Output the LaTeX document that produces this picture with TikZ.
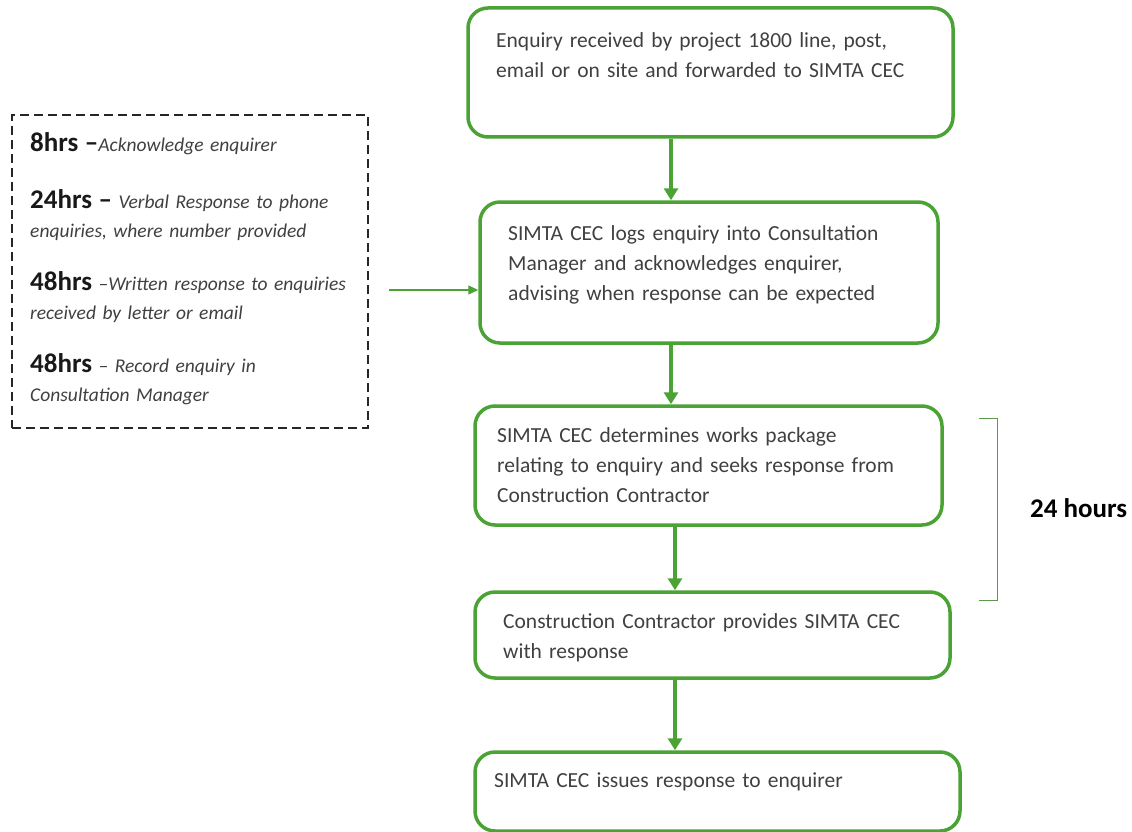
\documentclass[tikz,border=0pt]{standalone}
\usepackage{fontspec}
\setmainfont{Carlito}
\usetikzlibrary{arrows.meta}
\definecolor{boxgreen}{RGB}{74,163,52}
\definecolor{txtgrey}{RGB}{64,64,64}
\newcommand{\hrsb}[1]{{\fontsize{27}{29}\selectfont\bfseries\upshape\color{black!90}#1}}

\begin{document}
\begin{tikzpicture}[x=1pt,y=-1pt,
	stepbox/.style={draw=boxgreen,line width=3.5pt,rounded corners=20pt,inner sep=0pt},
	boxtext/.style={anchor=base west,inner sep=0pt,text width=#1,align=left,text=txtgrey,
	font=\fontsize{21.5}{30}\selectfont},
	itemtext/.style={anchor=base west,inner sep=0pt,text width=338pt,align=left,text=txtgrey,
	font=\fontsize{19.5}{29}\selectfont\itshape},
	flow/.style={draw=boxgreen,line width=3.5pt,-{Triangle[width=14pt,length=12pt]}},
	feed/.style={draw=boxgreen,line width=1.4pt,-{Triangle[width=9pt,length=10pt]}}]
\useasboundingbox (0,0) rectangle (1132,832);

% flow boxes
\node[stepbox,minimum width=485pt,minimum height=129pt] (b1) at (710.5,72.5) {};
\node[stepbox,minimum width=458pt,minimum height=141pt] (b2) at (709,272.5) {};
\node[stepbox,minimum width=467pt,minimum height=119pt] (b3) at (708.5,465.5) {};
\node[stepbox,minimum width=475pt,minimum height=86pt] (b4) at (712.5,635) {};
\node[stepbox,minimum width=485pt,minimum height=79pt] (b5) at (717.5,791.5) {};

\node[boxtext=450pt] (t1) at (496,48) {Enquiry received by project 1800 line, post,\\
	email or on site and forwarded to SIMTA CEC};
\node[boxtext=420pt] (t2) at (508,240) {SIMTA CEC logs enquiry into Consultation\\
	Manager and acknowledges enquirer,\\ advising when response can be expected};
\node[boxtext=440pt] (t3) at (497,442) {SIMTA CEC determines works package\\
	relating to enquiry and seeks response from\\ Construction Contractor};
\node[boxtext=440pt] (t4) at (503,628) {Construction Contractor provides SIMTA CEC\\ with response};
\node[boxtext=440pt] (t5) at (494,787) {SIMTA CEC issues response to enquirer};

\draw[flow] (b1.south -| 671,0) -- (b2.north -| 671,0);
\draw[flow] (b2.south -| 671,0) -- (b3.north -| 671,0);
\draw[flow] (b3.south -| 675,0) -- (b4.north -| 675,0);
\draw[flow] (b4.south -| 675,0) -- (b5.north -| 675,0);

% response times
\node[draw=black!85,line width=2pt,dash pattern=on 9pt off 5pt,minimum width=356pt,
	minimum height=313pt,inner sep=0pt] (note) at (190,271.5) {};
\node[itemtext] (n8) at (30,152) {\hrsb{8hrs --}Acknowledge enquirer};
\node[itemtext] (n24) at (30,208) {\hrsb{24hrs --} Verbal Response to phone\\
	enquiries, where number provided};
\node[itemtext] (n48a) at (30,290) {\hrsb{48hrs} --Written response to enquiries\\
	received by letter or email};
\node[itemtext] (n48b) at (30,372) {\hrsb{48hrs} -- Record enquiry in\\ Consultation Manager};

\draw[feed] ([xshift=20pt]note.east |- 0,290) -- (b2.west |- 0,290);

% 24 hour bracket
\coordinate (brtop) at (979,418);
\coordinate (brbot) at (979,600);
\draw[draw=boxgreen!70!gray,line width=1pt] (brtop) -- ++(18,0) |- (brbot);
\node[anchor=west,inner sep=0pt,font=\fontsize{27}{30}\selectfont\bfseries] (hours) at (1030,508) {24 hours};
\end{tikzpicture}
\end{document}
